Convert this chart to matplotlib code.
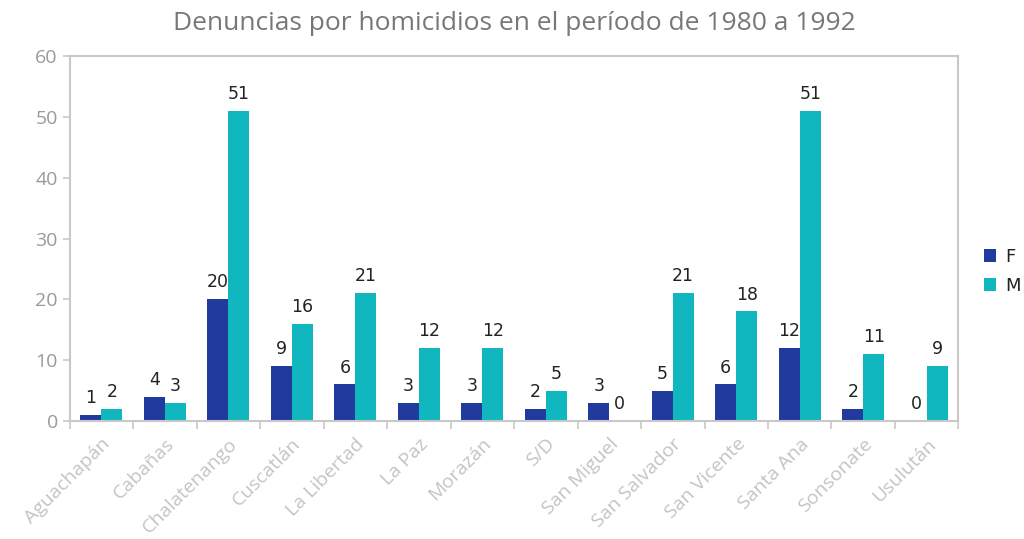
import matplotlib
matplotlib.use("Agg")
import matplotlib.pyplot as plt
import numpy as np

plt.rcParams['font.family'] = ['Open Sans', 'DejaVu Sans']

departamentos = ['Aguachapán', 'Cabañas', 'Chalatenango', 'Cuscatlán', 'La Libertad',
                 'La Paz', 'Morazán', 'S/D', 'San Miguel', 'San Salvador',
                 'San Vicente', 'Santa Ana', 'Sonsonate', 'Usulután']
valores_f = [1, 4, 20, 9, 6, 3, 3, 2, 3, 5, 6, 12, 2, 0]
valores_m = [2, 3, 51, 16, 21, 12, 12, 5, 0, 21, 18, 51, 11, 9]
y_ticks = [0, 10, 20, 30, 40, 50, 60]

color_f = '#213A9E'
color_m = '#10B7BE'
gris = '#C8C8C8'

fig = plt.figure(figsize=(10.24, 5.39), dpi=100)
ax = fig.add_axes([0.068, 0.219, 0.868, 0.677])

x = np.arange(len(departamentos))
w = 0.33
bf = ax.bar(x - w/2, valores_f, w, color=color_f, label='F')
bm = ax.bar(x + w/2, valores_m, w, color=color_m, label='M')

# etiquetas de valor
for rects, vals in [(bf, valores_f), (bm, valores_m)]:
    for r, v in zip(rects, vals):
        ax.text(r.get_x() + r.get_width()/2, v + 1.3, str(v),
                ha='center', va='bottom', fontsize=12.5, color='#222222',
                family='DejaVu Sans')

ax.set_xlim(-0.5, len(departamentos) - 0.5)
ax.set_ylim(0, 60)
ax.set_yticks(y_ticks)

ax.set_xticks(x)
ax.set_xticklabels(departamentos, rotation=45, ha='right', rotation_mode='anchor',
                   fontsize=14, color='#C4C4C4')
ax.set_xticks(np.arange(len(departamentos) + 1) - 0.5, minor=True)
ax.tick_params(axis='x', which='major', length=0, pad=10)
ax.tick_params(axis='x', which='minor', length=6, color=gris, width=1.2)
ax.tick_params(axis='y', length=5, color=gris, width=1.2, labelsize=14,
               labelcolor='#9A9A9A')

for s in ax.spines.values():
    s.set_color(gris)
    s.set_linewidth(1.5)

ax.set_title('Denuncias por homicidios en el período de 1980 a 1992',
             fontsize=19, color='#777777', pad=19)

leg = ax.legend(loc='center left', bbox_to_anchor=(1.01, 0.41), frameon=False,
                handlelength=0.7, handleheight=0.7, fontsize=13,
                labelspacing=0.6, handletextpad=0.5)
for t in leg.get_texts():
    t.set_color('#222222')
    t.set_family('DejaVu Sans')

fig.savefig('out.png', dpi=100)
